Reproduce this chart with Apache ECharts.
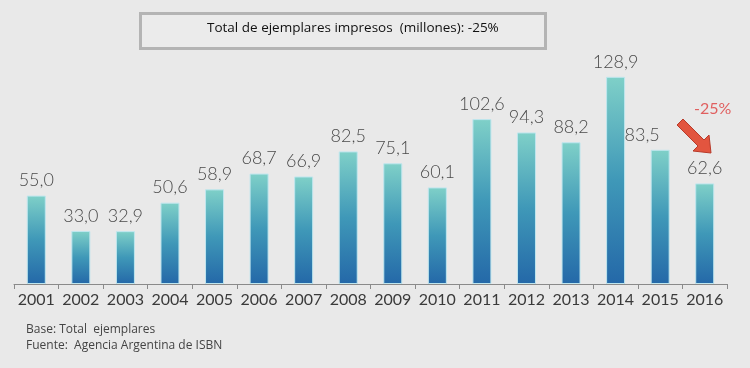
<!DOCTYPE html>
<html><head><meta charset="utf-8">
<script src="https://cdn.jsdelivr.net/npm/echarts@6/dist/echarts.min.js"></script>
<style>html,body{margin:0;padding:0;background:#e9e9e9;}#c{width:750px;height:368px;}</style>
</head><body><div id="c"></div>
<script>
var years = ['2001','2002','2003','2004','2005','2006','2007','2008','2009','2010','2011','2012','2013','2014','2015','2016'];
var values = [55.0,33.0,32.9,50.6,58.9,68.7,66.9,82.5,75.1,60.1,102.6,94.3,88.2,128.9,83.5,62.6];
var titleText = 'Total de ejemplares impresos  (millones): -25%';
var changeText = '-25%';
var notes = ['Base: Total  ejemplares','Fuente:  Agencia Argentina de ISBN'];

var chart = echarts.init(document.getElementById('c'));
var barColor = new echarts.graphic.LinearGradient(0,0,0,1,[{offset:0,color:'#7fd0c8'},{offset:0.5,color:'#3f98b8'},{offset:1,color:'#2468a8'}]);
var data = values.map(function(v,i){
  var d = {value:v};
  if (i === 14) d.label = {offset:[-18,0]};
  return d;
});
chart.setOption({
  backgroundColor:'#e9e9e9',
  animation:false,
  grid:{left:14,right:23,top:59,bottom:84},
  xAxis:{type:'category',data:years,
    axisLine:{lineStyle:{color:'#8a8a8a',width:1}},
    axisTick:{show:true,length:5,lineStyle:{color:'#8a8a8a'}},
    axisLabel:{color:'#3a3a3a',fontSize:16,fontFamily:'Lato',margin:8,interval:0,hideOverlap:false}},
  yAxis:{type:'value',min:0,max:140,show:false,splitLine:{show:false}},
  series:[{type:'bar',data:data,barWidth:19,
    itemStyle:{color:barColor,borderColor:'#bfe6ee',borderWidth:1},
    label:{show:true,position:'top',distance:6,color:'#4a4a4a',fontSize:18,fontFamily:'Lato',fontWeight:300,
      formatter:function(p){return p.value.toFixed(1).replace('.',',');}}}],
  graphic:[
    {type:'rect',left:139,top:12,shape:{width:405,height:35},style:{fill:'#ebebeb',stroke:'#b4b4b4',lineWidth:3}},
    {type:'text',left:207,top:21,style:{text:titleText,font:'13.5px "Open Sans"',fill:'#111'}},
    {type:'text',left:694,top:101,style:{text:changeText,font:'16px Lato',fill:'#e06060'}},
    {type:'polygon',shape:{points:[[683,119],[704,140],[709,135],[711,153],[693,151],[698,146],[677,125]]},
      style:{fill:'#e2553f',stroke:'#b83a2a',lineWidth:1}},
    {type:'text',left:26,top:324,style:{text:notes[0],font:'12px "Open Sans"',fill:'#444'}},
    {type:'text',left:26,top:340,style:{text:notes[1],font:'12px "Open Sans"',fill:'#444'}}
  ]
});
</script></body></html>
